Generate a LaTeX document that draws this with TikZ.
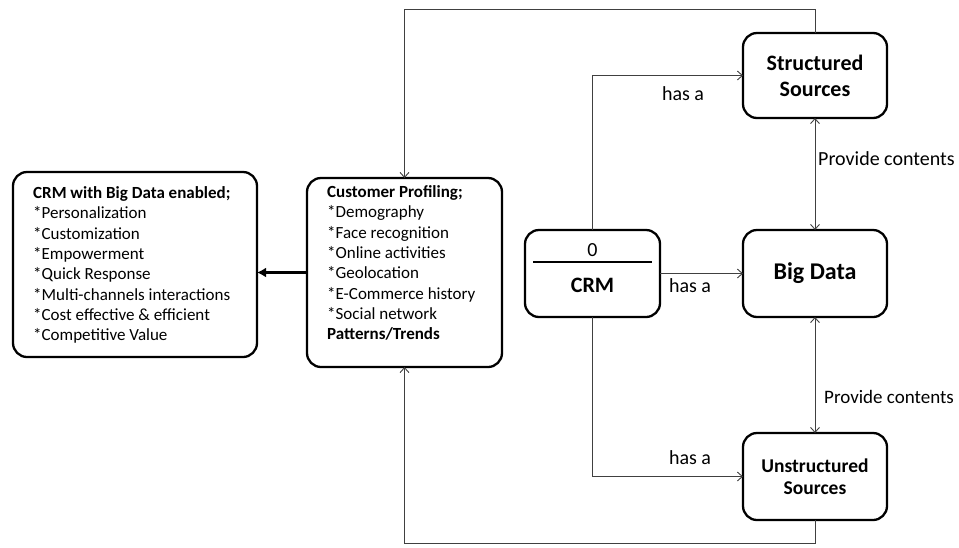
\documentclass[tikz,border=0pt]{standalone}
\usepackage{fontspec}
\setmainfont{Carlito}
\usetikzlibrary{arrows.meta,calc}
\tikzset{
  box/.style={draw=black, line width=2.3pt, rounded corners=14pt, inner sep=0pt, outer sep=0pt},
  conn/.style={draw=black!75, line width=0.9pt},
  tip/.style={-{Straight Barb[length=5pt,width=9pt,line width=0.9pt]}},
  dtip/.style={{Straight Barb[length=5pt,width=9pt,line width=0.9pt]}-{Straight Barb[length=5pt,width=9pt,line width=0.9pt]}},
  listtext/.style={inner sep=0pt, anchor=north west, align=left, font=\fontsize{17}{20.3}\selectfont},
  lbl/.style={inner sep=0pt, font=\fontsize{20}{24}\selectfont},
}
\begin{document}
\begin{tikzpicture}[x=1pt,y=-1pt]
\useasboundingbox (0,0) rectangle (959,547);
% boxes
\node[box, minimum width=244pt, minimum height=185pt] (L) at (135,264.5) {};
\node[box, minimum width=195pt, minimum height=189pt] (P) at (404.5,272.5) {};
\node[box, minimum width=135pt, minimum height=87pt] (CRM) at (592.5,273.5) {};
\node[box, minimum width=144pt, minimum height=87pt, font=\bfseries\fontsize{24}{28}\selectfont] (BD) at (815,273.5) {Big Data};
\node[box, minimum width=144pt, minimum height=85pt, align=center, font=\bfseries\fontsize{22}{26}\selectfont] (SS) at (815,75.5) {Structured\\Sources};
\node[box, minimum width=144pt, minimum height=87pt, align=center, font=\bfseries\fontsize{19.5}{22}\selectfont] (US) at (815,476.5) {Unstructured\\Sources};
% box texts
\node[listtext] (Ltxt) at (33,186.5) {\textbf{CRM with Big Data enabled;}\\*Personalization\\*Customization\\*Empowerment\\*Quick Response\\*Multi-channels interactions\\*Cost effective \& efficient\\*Competitive Value};
\node[listtext] (Ptxt) at (327,185.5) {\textbf{Customer Profiling;}\\*Demography\\*Face recognition\\*Online activities\\*Geolocation\\*E-Commerce history\\*Social network\\\textbf{Patterns/Trends}};
\node[lbl] (zero) at (592.5,250) {0};
\node[lbl, font=\bfseries\fontsize{22}{26}\selectfont] (crmt) at (592.5,285) {CRM};
\draw[line width=1.2pt] ($(CRM.center)+(-59.5,-11.5)$) -- ($(CRM.center)+(59.5,-11.5)$);
% coordinates for route
\coordinate (top) at (0,9);
\coordinate (bot) at (0,543);
% connectors
\draw[conn,tip] (SS.north) -- (SS.north |- top) -| (P.north);
\draw[conn,tip] (US.south) -- (US.south |- bot) -| (P.south);
\draw[conn,tip] (CRM.north) |- (SS.west);
\draw[conn,tip] (CRM.east) -- (BD.west);
\draw[conn,tip] (CRM.south) |- (US.west);
\draw[conn,dtip] (SS.south) -- (BD.north);
\draw[conn,dtip] (BD.south) -- (US.north);
\draw[line width=3pt, -{Latex[length=9pt,width=10pt]}] (P.west) -- (P.west -| L.east);
% labels
\node[lbl] (h1) at (683,94) {has a};
\node[lbl] (h2) at (690,286) {has a};
\node[lbl] (h3) at (690,458) {has a};
\node[lbl, anchor=west] (pc1) at (818,159) {Provide contents};
\node[lbl, anchor=west, font=\fontsize{19}{23}\selectfont] (pc2) at (824,397) {Provide contents};
\end{tikzpicture}
\end{document}
